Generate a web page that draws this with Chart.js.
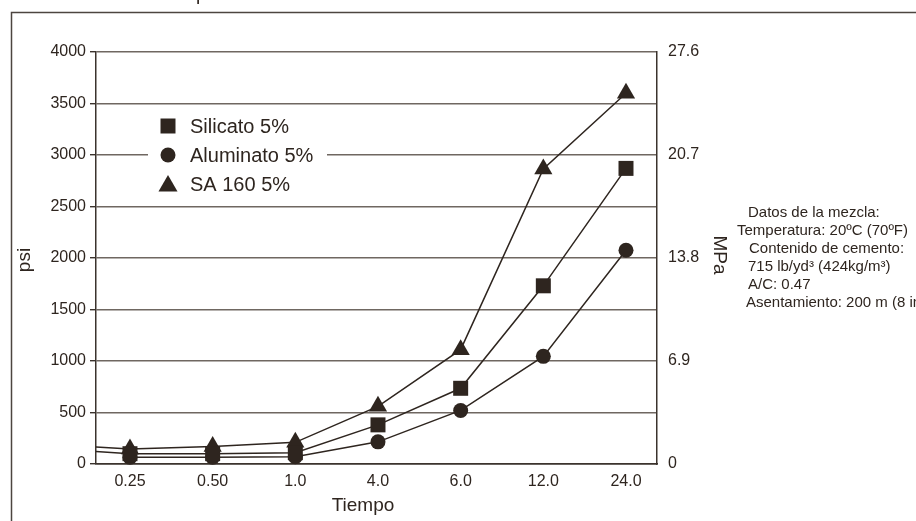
<!DOCTYPE html>
<html><head><meta charset="utf-8">
<script src="https://cdn.jsdelivr.net/npm/chart.js@4.4.0/dist/chart.umd.min.js"></script>
<style>html,body{margin:0;padding:0;background:#fff;overflow:hidden}#wrap{position:relative;width:916px;height:521px}</style>
</head><body><div id="wrap"><canvas id="c" width="916" height="521"></canvas></div>
<script>
// ---- data ----
const categories = ['0.25', '0.50', '1.0', '4.0', '6.0', '12.0', '24.0'];
const silicato  = [100, 100, 110, 380, 735, 1730, 2870];
const aluminato = [65, 65, 70, 215, 520, 1045, 2075];
const sa160     = [145, 170, 210, 560, 1110, 2865, 3600];
// values of the earlier (cut-off) point: only the start of the line shows at the left edge
const silicatoLead = 150;
const sa160Lead = 195;
const seriesNames = ['Silicato 5%', 'Aluminato 5%', 'SA 160 5%'];
const psiTicks = [0, 500, 1000, 1500, 2000, 2500, 3000, 3500, 4000];
const mpaTicks = [0, 6.9, 13.8, 20.7, 27.6];
const notes = ['Datos de la mezcla:', 'Temperatura: 20ºC (70ºF)', 'Contenido de cemento:', '715 lb/yd³ (424kg/m³)', 'A/C: 0.47', 'Asentamiento: 200 m (8 in'];

// ---- styles ----
const INK = '#2e251f';
const AXIS = '#3b332d';
const GRID = '#6f6761';
const FONT = '"Liberation Sans", Arial, Helvetica, sans-serif';
const noteX = [748, 737, 749, 748, 748, 746];

function pts(arr, lead) {
  const out = [];
  if (lead !== undefined) out.push({x: -1, y: lead});
  arr.forEach((v, i) => out.push({x: i, y: v}));
  return out;
}
function ds(label, arr, lead, style, r) {
  return {
    label, data: pts(arr, lead), pointStyle: style,
    borderColor: INK, backgroundColor: INK, borderWidth: 1.5,
    pointBackgroundColor: INK, pointBorderColor: INK, pointBorderWidth: 0,
    pointRadius: c => (c.raw && c.raw.x < 0 ? 0 : r), pointHoverRadius: r,
    tension: 0, clip: {left: 0, right: 0, top: 0, bottom: 10}, yAxisID: 'y'
  };
}

function shape(ctx, style, x, y, r) {
  ctx.beginPath();
  if (style === 'rect') { const s = r * Math.SQRT1_2; ctx.rect(x - s, y - s, 2 * s, 2 * s); }
  else if (style === 'circle') { ctx.arc(x, y, r, 0, Math.PI * 2); }
  else { ctx.moveTo(x, y - r); ctx.lineTo(x + r * 0.866, y + r / 2); ctx.lineTo(x - r * 0.866, y + r / 2); ctx.closePath(); }
  ctx.fill();
}

const decor = {
  id: 'decor',
  beforeDatasetsDraw(chart) {
    const ctx = chart.ctx;
    ctx.save();
    // legend box
    ctx.fillStyle = '#fff';
    ctx.fillRect(148, 109, 179, 92);
    const styles = ['rect', 'circle', 'triangle'];
    const radii = [10.6, 7.5, 11];
    const ys = [126, 155, 184];
    ctx.fillStyle = INK;
    ctx.font = '20px ' + FONT;
    ctx.textBaseline = 'middle';
    ctx.textAlign = 'left';
    seriesNames.forEach((n, i) => {
      shape(ctx, styles[i], 168, styles[i] === 'triangle' ? ys[i] + 2 : ys[i], radii[i]);
      ctx.fillText(n, 190, ys[i] + 1);
    });
    ctx.restore();
  },
  afterDraw(chart) {
    const ctx = chart.ctx;
    ctx.save();
    // frame
    ctx.strokeStyle = '#4d4540';
    ctx.lineWidth = 1.5;
    ctx.beginPath();
    ctx.moveTo(11.5, 521); ctx.lineTo(11.5, 12.5); ctx.lineTo(916, 12.5);
    ctx.stroke();
    ctx.fillStyle = INK;
    // cut-off title fragment
    ctx.font = '19px ' + FONT;
    ctx.textBaseline = 'alphabetic';
    ctx.textAlign = 'left';
    ctx.fillText('p', 196, 0);
    // axis titles
    ctx.font = '19px ' + FONT;
    ctx.textAlign = 'center';
    ctx.textBaseline = 'middle';
    ctx.fillText('Tiempo', 363, 506);
    ctx.save(); ctx.translate(25, 260); ctx.rotate(-Math.PI / 2); ctx.fillText('psi', 0, 0); ctx.restore();
    ctx.save(); ctx.translate(719, 255); ctx.rotate(Math.PI / 2); ctx.fillText('MPa', 0, 0); ctx.restore();
    // notes
    ctx.font = '15px ' + FONT;
    ctx.textAlign = 'left';
    notes.forEach((t, i) => ctx.fillText(t, noteX[i], 213 + i * 18));
    ctx.restore();
  }
};

const tickFont = {family: FONT, size: 16};
new Chart(document.getElementById('c'), {
  type: 'line',
  data: {datasets: [
    ds(seriesNames[0], silicato, silicatoLead, 'rect', 10.6),
    ds(seriesNames[1], aluminato, undefined, 'circle', 7.5),
    ds(seriesNames[2], sa160, sa160Lead, 'triangle', 10.5)
  ]},
  options: {
    responsive: false, animation: false, devicePixelRatio: 1,
    layout: {padding: {top: 52, left: 0, right: 0, bottom: 0}},
    plugins: {legend: {display: false}, tooltip: {enabled: false}},
    scales: {
      x: {
        type: 'linear', min: -0.411, max: 6.375,
        afterBuildTicks: s => { s.ticks = categories.map((c, i) => ({value: i})); },
        ticks: {callback: v => categories[v], padding: 0, font: tickFont, color: INK, maxRotation: 0, autoSkip: false},
        grid: {display: false},
        border: {color: AXIS, width: 1.5},
        afterFit: s => { s.height = 57; }
      },
      y: {
        position: 'left', min: 0, max: 4000,
        afterBuildTicks: s => { s.ticks = psiTicks.map(v => ({value: v})); },
        ticks: {padding: 4, font: tickFont, color: INK, callback: v => String(v)},
        grid: {color: c => (c.tick && c.tick.value === 0 ? AXIS : GRID), lineWidth: 1.4, tickLength: 6, tickColor: AXIS, tickWidth: 1.4},
        border: {color: AXIS, width: 1.5},
        afterFit: s => { s.width = 96; }
      },
      y2: {
        position: 'right', min: 0, max: 27.6,
        afterBuildTicks: s => { s.ticks = mpaTicks.map(v => ({value: v})); },
        ticks: {padding: 3, font: tickFont, color: INK, callback: v => String(v)},
        grid: {display: false},
        border: {color: AXIS, width: 1.5},
        afterFit: s => { s.width = 259; }
      }
    }
  },
  plugins: [decor]
});
</script>
</body></html>
